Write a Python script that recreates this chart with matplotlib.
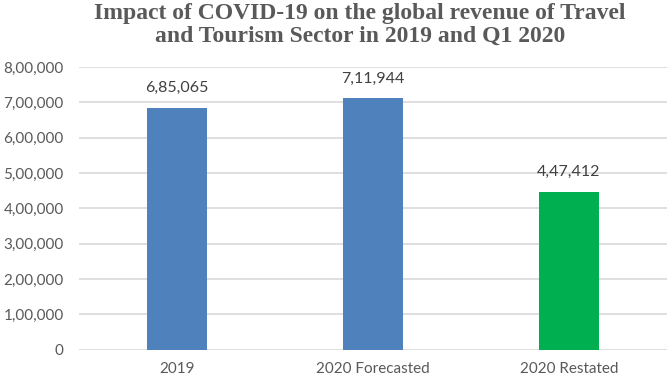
import matplotlib.pyplot as plt

# chart data
categories = ["2019", "2020 Forecasted", "2020 Restated"]
revenue = [685065, 711944, 447412]
bar_colors = ["#4F81BD", "#4F81BD", "#00B050"]
y_ticks = [0, 100000, 200000, 300000, 400000, 500000, 600000, 700000, 800000]
y_tick_labels = ["0", "1,00,000", "2,00,000", "3,00,000", "4,00,000",
                 "5,00,000", "6,00,000", "7,00,000", "8,00,000"]


def indian_format(n):
    """ format number with indian digit grouping, e.g. 6,85,065 """
    s = str(int(n))
    if len(s) <= 3:
        return s
    head, tail = s[:-3], s[-3:]
    groups = []
    while len(head) > 2:
        groups.insert(0, head[-2:])
        head = head[:-2]
    if head:
        groups.insert(0, head)
    return ",".join(groups) + "," + tail


plt.rcParams['font.family'] = ['Lato', 'DejaVu Sans']

fig = plt.figure(figsize=(6.69, 3.8), dpi=100)
ax = fig.add_axes([0.118, 0.080, 0.879, 0.7434])

x = range(len(categories))
ax.bar(x, revenue, width=0.31, color=bar_colors, zorder=3)

for xi, val in zip(x, revenue):
    ax.annotate(indian_format(val), (xi, val), xytext=(0, 14),
                textcoords="offset points", ha="center", va="center",
                fontsize=11.5, color="#404040")

ax.set_xlim(-0.5, 2.5)
ax.set_ylim(0, 800000)
ax.set_yticks(y_ticks)
ax.set_yticklabels(y_tick_labels)
ax.set_xticks(list(x))
ax.set_xticklabels(categories)
ax.tick_params(axis="both", length=0, labelsize=11, labelcolor="#595959")
ax.tick_params(axis="y", pad=11)
ax.tick_params(axis="x", pad=9)
ax.grid(axis="y", color="#D9D9D9", linewidth=1.2, zorder=0)
for side in ["top", "right", "left", "bottom"]:
    ax.spines[side].set_visible(False)

fig.text(0.538, 0.934, "Impact of COVID-19 on the global revenue of Travel\n"
         "and Tourism Sector in 2019 and Q1 2020",
         ha="center", va="center", fontsize=17, fontweight="bold",
         family="Liberation Serif", color="#595959", linespacing=1.15)

fig.savefig("out.png", dpi=100)
